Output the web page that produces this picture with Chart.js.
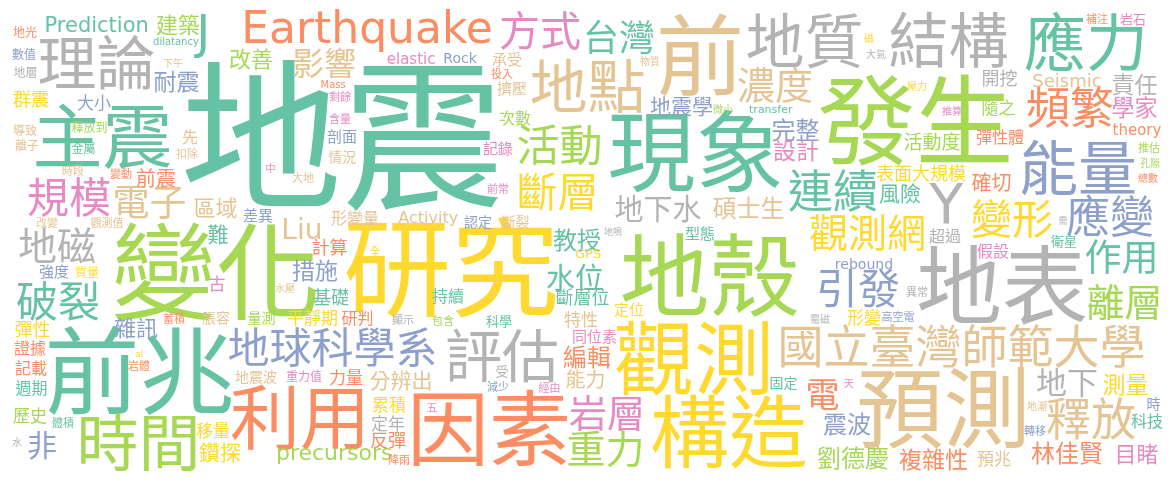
<!DOCTYPE html>
<html lang="zh-Hant">
<head>
<meta charset="utf-8">
<title>地震 word cloud</title>
<script src="https://cdn.jsdelivr.net/npm/chart.js@4.4.1/dist/chart.umd.min.js"></script>
<style>
    html, body { margin: 0; padding: 0; background: #ffffff; }
    #cloud { display: block; }
</style>
</head>
<body>
<canvas id="cloud" width="1175" height="482"></canvas>
<script>
// Words, their place on the cloud (x, y in a 1175 x 482 value space), weight and colour group
const words = [
    '地震', '變化', '研究', '地殼', '現象', '發生', '前兆', '地表', '預測', '觀測',
    '構造', '因素', '利用', '評估', '時間', '主震', '前', '地質', '結構', '應力',
    '理論', '能量', '地點', '國立臺灣師範大學', '地球科學系', '連續', '釋放', '活動', '應變', '頻繁',
    '規模', '破裂', '斷層', '引發', '方式', '變形', '地磁', '觀測網', '岩層', '重力',
    '濃度', '離層', '電子', '作用', '台灣', '電', '影響', '地下', '水位', '地下水',
    'Earthquake', 'Y', 'J', 'Liu', '碩士生', '教授', '編輯', '完整', '林佳賢', '複雜性',
    '劉德慶', '震波', '設計', '耐震', '測量', '責任', '學家', '措施', '建築', '改善',
    '區域', '雜訊', '能力', '鑽探', '確切', '前震', '難', '地震學', '風險', '目睹',
    '分辨出', '活動度', '非', 'Prediction', 'precursors', '群震', '彈性', '表面大規模', '斷層位', '開挖',
    '計算', '基礎', '形變', '特性', 'Seismic', '平靜期', '歷史', '移量', '累積', '定年',
    '反彈', '力量', '彈性體', '隨之', '科技', '古', '次數', '證據', '記載', '週期',
    '持續', '形變量', '研判', '假設', '超過', 'Activity', '預兆', '擠壓', '承受', '剖面',
    '記錄', '型態', '定位', '強度', 'elastic', '同位素', '差異', '認定', '脹容', '量測',
    '情況', '地震波', 'Rock', '先', 'theory', '科學', '固定', '時', '衛星', 'rebound',
    'GPS', '岩石', '大小', '全', '重力值', '質量', '觀測值', '釋放到', '金屬', '地光',
    '數值', '地層', '導致', '離子', '受', '時段', '變動', '剩餘', '含量', '投入',
    '扣除', '大地', '改變', '補注', '推估', '岩體', '體積', '斷裂', '顯示', '包含',
    '減少', '經由', '五', '降雨', '異常', '高空電', '前常', 'Mass', 'transfer', 'dilatancy',
    '下午', '物質', '微小', '地鳴', '電磁', '大氣', '壓力', '推算', '孔隙', '總數',
    '中', '水壓', '蓄積', '磁', '天', '地潮', '轉移', '水', '需', 'al'
];

const xs = [
    342, 215, 451, 710, 695, 914, 140, 1002, 942, 692,
    729, 490, 297, 502, 138, 103, 700, 804, 949, 1084,
    97, 1078, 587, 962, 332, 833, 1091, 559, 1110, 1070,
    69, 58, 557, 859, 540, 1012, 57, 867, 605, 605,
    775, 1123, 150, 1120, 620, 823, 324, 1067, 575, 658,
    368, 946, 200, 302, 748, 577, 587, 796, 1067, 933,
    853, 847, 796, 177, 1125, 1135, 1135, 315, 178, 251,
    216, 136, 585, 220, 991, 156, 218, 681, 900, 1138,
    400, 932, 42, 97, 335, 31, 33, 921, 583, 1000,
    330, 331, 864, 581, 1067, 312, 30, 213, 389, 388,
    388, 346, 1000, 999, 1147, 217, 515, 30, 31, 31,
    448, 355, 357, 993, 945, 428, 994, 512, 507, 342,
    498, 700, 629, 54, 411, 595, 258, 478, 216, 261,
    342, 256, 461, 190, 1137, 499, 784, 1154, 1064, 864,
    588, 1133, 94, 375, 304, 87, 107, 89, 83, 25,
    24, 25, 25, 27, 502, 73, 121, 340, 340, 502,
    187, 303, 47, 1097, 1149, 139, 63, 516, 403, 443,
    498, 549, 432, 399, 917, 898, 498, 333, 771, 176,
    173, 650, 723, 613, 820, 876, 917, 952, 1150, 1148,
    270, 285, 174, 869, 849, 1037, 1035, 17, 1063, 139
];

const ys = [
    135, 271, 267, 275, 151, 120, 370, 285, 408, 358,
    431, 428, 417, 355, 442, 136, 55, 40, 39, 41,
    62, 167, 85, 346, 347, 190, 418, 145, 215, 107,
    197, 301, 191, 288, 30, 219, 245, 233, 413, 449,
    85, 302, 202, 257, 37, 394, 63, 382, 277, 208,
    30, 203, 36, 228, 208, 240, 357, 130, 453, 459,
    458, 424, 150, 81, 384, 84, 107, 270, 25, 59,
    208, 328, 379, 452, 182, 178, 234, 106, 193, 454,
    380, 141, 445, 24, 456, 99, 329, 173, 297, 78,
    247, 297, 317, 320, 80, 318, 416, 430, 404, 423,
    440, 377, 137, 108, 421, 283, 118, 348, 368, 388,
    296, 218, 318, 251, 236, 218, 459, 88, 59, 137,
    148, 233, 310, 272, 58, 337, 215, 222, 318, 318,
    157, 377, 57, 137, 130, 321, 383, 404, 241, 263,
    253, 19, 103, 251, 376, 272, 222, 127, 148, 32,
    54, 72, 130, 145, 371, 170, 173, 96, 118, 73,
    153, 177, 222, 18, 147, 365, 422, 222, 320, 320,
    386, 387, 407, 459, 292, 316, 188, 84, 109, 42,
    63, 61, 109, 231, 318, 54, 86, 111, 163, 178,
    168, 288, 318, 37, 384, 406, 430, 442, 221, 353
];

const weights = [
    162, 105, 108, 90, 88, 98, 95, 86, 87, 80,
    79, 82, 70, 57, 62, 70, 88, 59, 60, 62,
    59, 59, 58, 46, 42, 45, 45, 43, 44, 44,
    42, 42, 41, 42, 41, 41, 39, 39, 38, 39,
    38, 38, 37, 37, 36, 34, 32, 31, 29, 29,
    44, 55, 46, 28, 24, 24, 24, 24, 24, 23,
    24, 24, 23, 23, 23, 23, 23, 23, 22, 22,
    22, 22, 20, 21, 20, 20, 21, 21, 21, 22,
    21, 19, 30, 21, 22, 18, 18, 18, 18, 18,
    18, 18, 17, 17, 18, 17, 17, 17, 17, 17,
    18, 17, 16, 17, 16, 17, 16, 16, 16, 16,
    16, 16, 16, 16, 16, 16, 17, 15, 15, 15,
    15, 15, 15, 15, 15, 15, 15, 14, 14, 14,
    14, 14, 14, 16, 15, 13, 14, 14, 13, 14,
    13, 13, 17, 11, 12, 12, 11, 12, 12, 12,
    12, 12, 12, 12, 13, 11, 11, 11, 11, 11,
    11, 11, 11, 11, 11, 11, 11, 14, 11, 11,
    11, 11, 11, 11, 11, 11, 11, 10, 11, 10,
    10, 10, 10, 9, 10, 10, 10, 10, 10, 10,
    10, 10, 11, 10, 10, 10, 11, 10, 9, 9
];

// 0 teal, 1 orange, 2 blue, 3 pink, 4 green, 5 yellow, 6 tan, 7 gray
const groups = [
    0, 4, 5, 4, 0, 4, 0, 7, 6, 5,
    5, 1, 1, 7, 4, 0, 6, 7, 7, 0,
    7, 2, 6, 6, 2, 0, 6, 4, 2, 1,
    3, 0, 5, 2, 3, 5, 7, 5, 3, 4,
    6, 4, 6, 0, 0, 1, 6, 7, 0, 7,
    1, 7, 0, 6, 6, 0, 1, 2, 1, 1,
    4, 2, 3, 2, 5, 7, 3, 2, 4, 4,
    6, 2, 6, 5, 1, 1, 0, 2, 0, 3,
    6, 4, 2, 0, 4, 5, 5, 5, 0, 7,
    1, 0, 5, 6, 6, 5, 4, 5, 5, 7,
    1, 1, 1, 4, 0, 3, 4, 1, 1, 0,
    0, 6, 1, 3, 7, 6, 6, 6, 6, 2,
    3, 0, 5, 2, 3, 3, 2, 2, 6, 4,
    6, 6, 2, 6, 1, 0, 0, 2, 0, 2,
    5, 3, 2, 5, 3, 5, 6, 4, 0, 1,
    2, 7, 6, 6, 7, 6, 1, 3, 3, 1,
    6, 6, 6, 1, 4, 1, 0, 6, 7, 4,
    2, 3, 3, 1, 7, 2, 3, 1, 0, 0,
    6, 6, 4, 7, 7, 7, 5, 3, 4, 1,
    3, 6, 1, 5, 3, 6, 2, 7, 7, 5
];

const palette = ['#66c2a5', '#fc8d62', '#8da0cb', '#e78ac3', '#a6d854', '#ffd92f', '#e5c494', '#b3b3b3'];

// Draw each word centred (by its ink) on its data point
const wordPlugin = {
    id: 'wordLabels',
    afterDatasetsDraw(chart) {
        const ctx = chart.ctx;
        const meta = chart.getDatasetMeta(0);
        ctx.save();
        ctx.textAlign = 'left';
        ctx.textBaseline = 'alphabetic';
        meta.data.forEach((point, i) => {
            const word = words[i];
            const latin = /^[A-Za-z]+$/.test(word);
            const family = latin ? '"DejaVu Sans", "Noto Sans", sans-serif' : '"Noto Sans CJK TC", "Noto Sans CJK SC", sans-serif';
            ctx.font = `${weights[i]}px ${family}`;
            ctx.fillStyle = palette[groups[i]];
            const m = ctx.measureText(word);
            const tx = point.x - (m.actualBoundingBoxRight - m.actualBoundingBoxLeft) / 2;
            const ty = point.y + (m.actualBoundingBoxAscent - m.actualBoundingBoxDescent) / 2;
            ctx.fillText(word, tx, ty);
        });
        ctx.restore();
    }
};

document.addEventListener('DOMContentLoaded', function() {
    const ctx = document.getElementById('cloud').getContext('2d');
    new Chart(ctx, {
        type: 'scatter',
        data: {
            datasets: [{
                label: 'words',
                data: words.map((w, i) => ({ x: xs[i], y: ys[i] })),
                pointRadius: 0,
                pointHoverRadius: 0
            }]
        },
        options: {
            responsive: false,
            animation: false,
            events: [],
            layout: { padding: 0 },
            plugins: {
                legend: { display: false },
                tooltip: { enabled: false }
            },
            scales: {
                x: { type: 'linear', min: 0, max: 1175, display: false },
                y: { type: 'linear', min: 0, max: 482, reverse: true, display: false }
            }
        },
        plugins: [wordPlugin]
    });
});
</script>
</body>
</html>
